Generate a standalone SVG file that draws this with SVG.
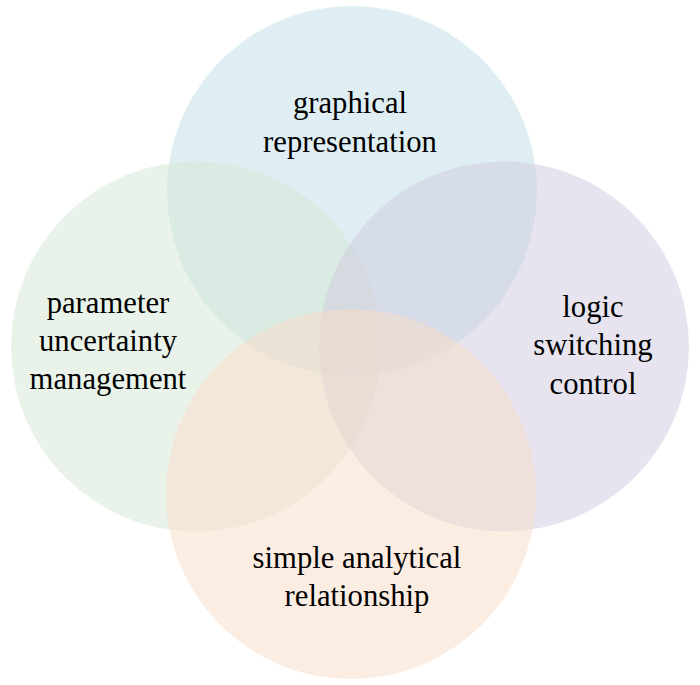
<svg xmlns="http://www.w3.org/2000/svg" width="700" height="685" viewBox="0 0 700 685">
<style>
.c{fill-opacity:0.5;stroke:none}
.t{font-family:"Liberation Serif","Times New Roman",serif;font-size:30.7px;fill:#000;text-anchor:middle}
</style>
<rect width="700" height="685" fill="#fff"/>
<g id="top"><circle class="c" cx="352" cy="191" r="185" fill="#BFDDE7"/></g>
<g id="left"><circle class="c" cx="196" cy="346.5" r="185" fill="#D5E7D3"/></g>
<g id="right"><circle class="c" cx="504" cy="346.5" r="185" fill="#CFC9DF"/></g>
<g id="bottom"><circle class="c" cx="351" cy="494" r="185" fill="#F9DBC7"/></g>
<g id="connectors"></g>
<g id="labels">
<text class="t" x="350" y="113">graphical</text>
<text class="t" x="350" y="152">representation</text>
<text class="t" x="108" y="313">parameter</text>
<text class="t" x="108" y="351">uncertainty</text>
<text class="t" x="108" y="389">management</text>
<text class="t" x="593" y="317">logic</text>
<text class="t" x="593" y="355">switching</text>
<text class="t" x="593" y="394">control</text>
<text class="t" x="357" y="568">simple analytical</text>
<text class="t" x="357" y="606">relationship</text>
</g>
</svg>
